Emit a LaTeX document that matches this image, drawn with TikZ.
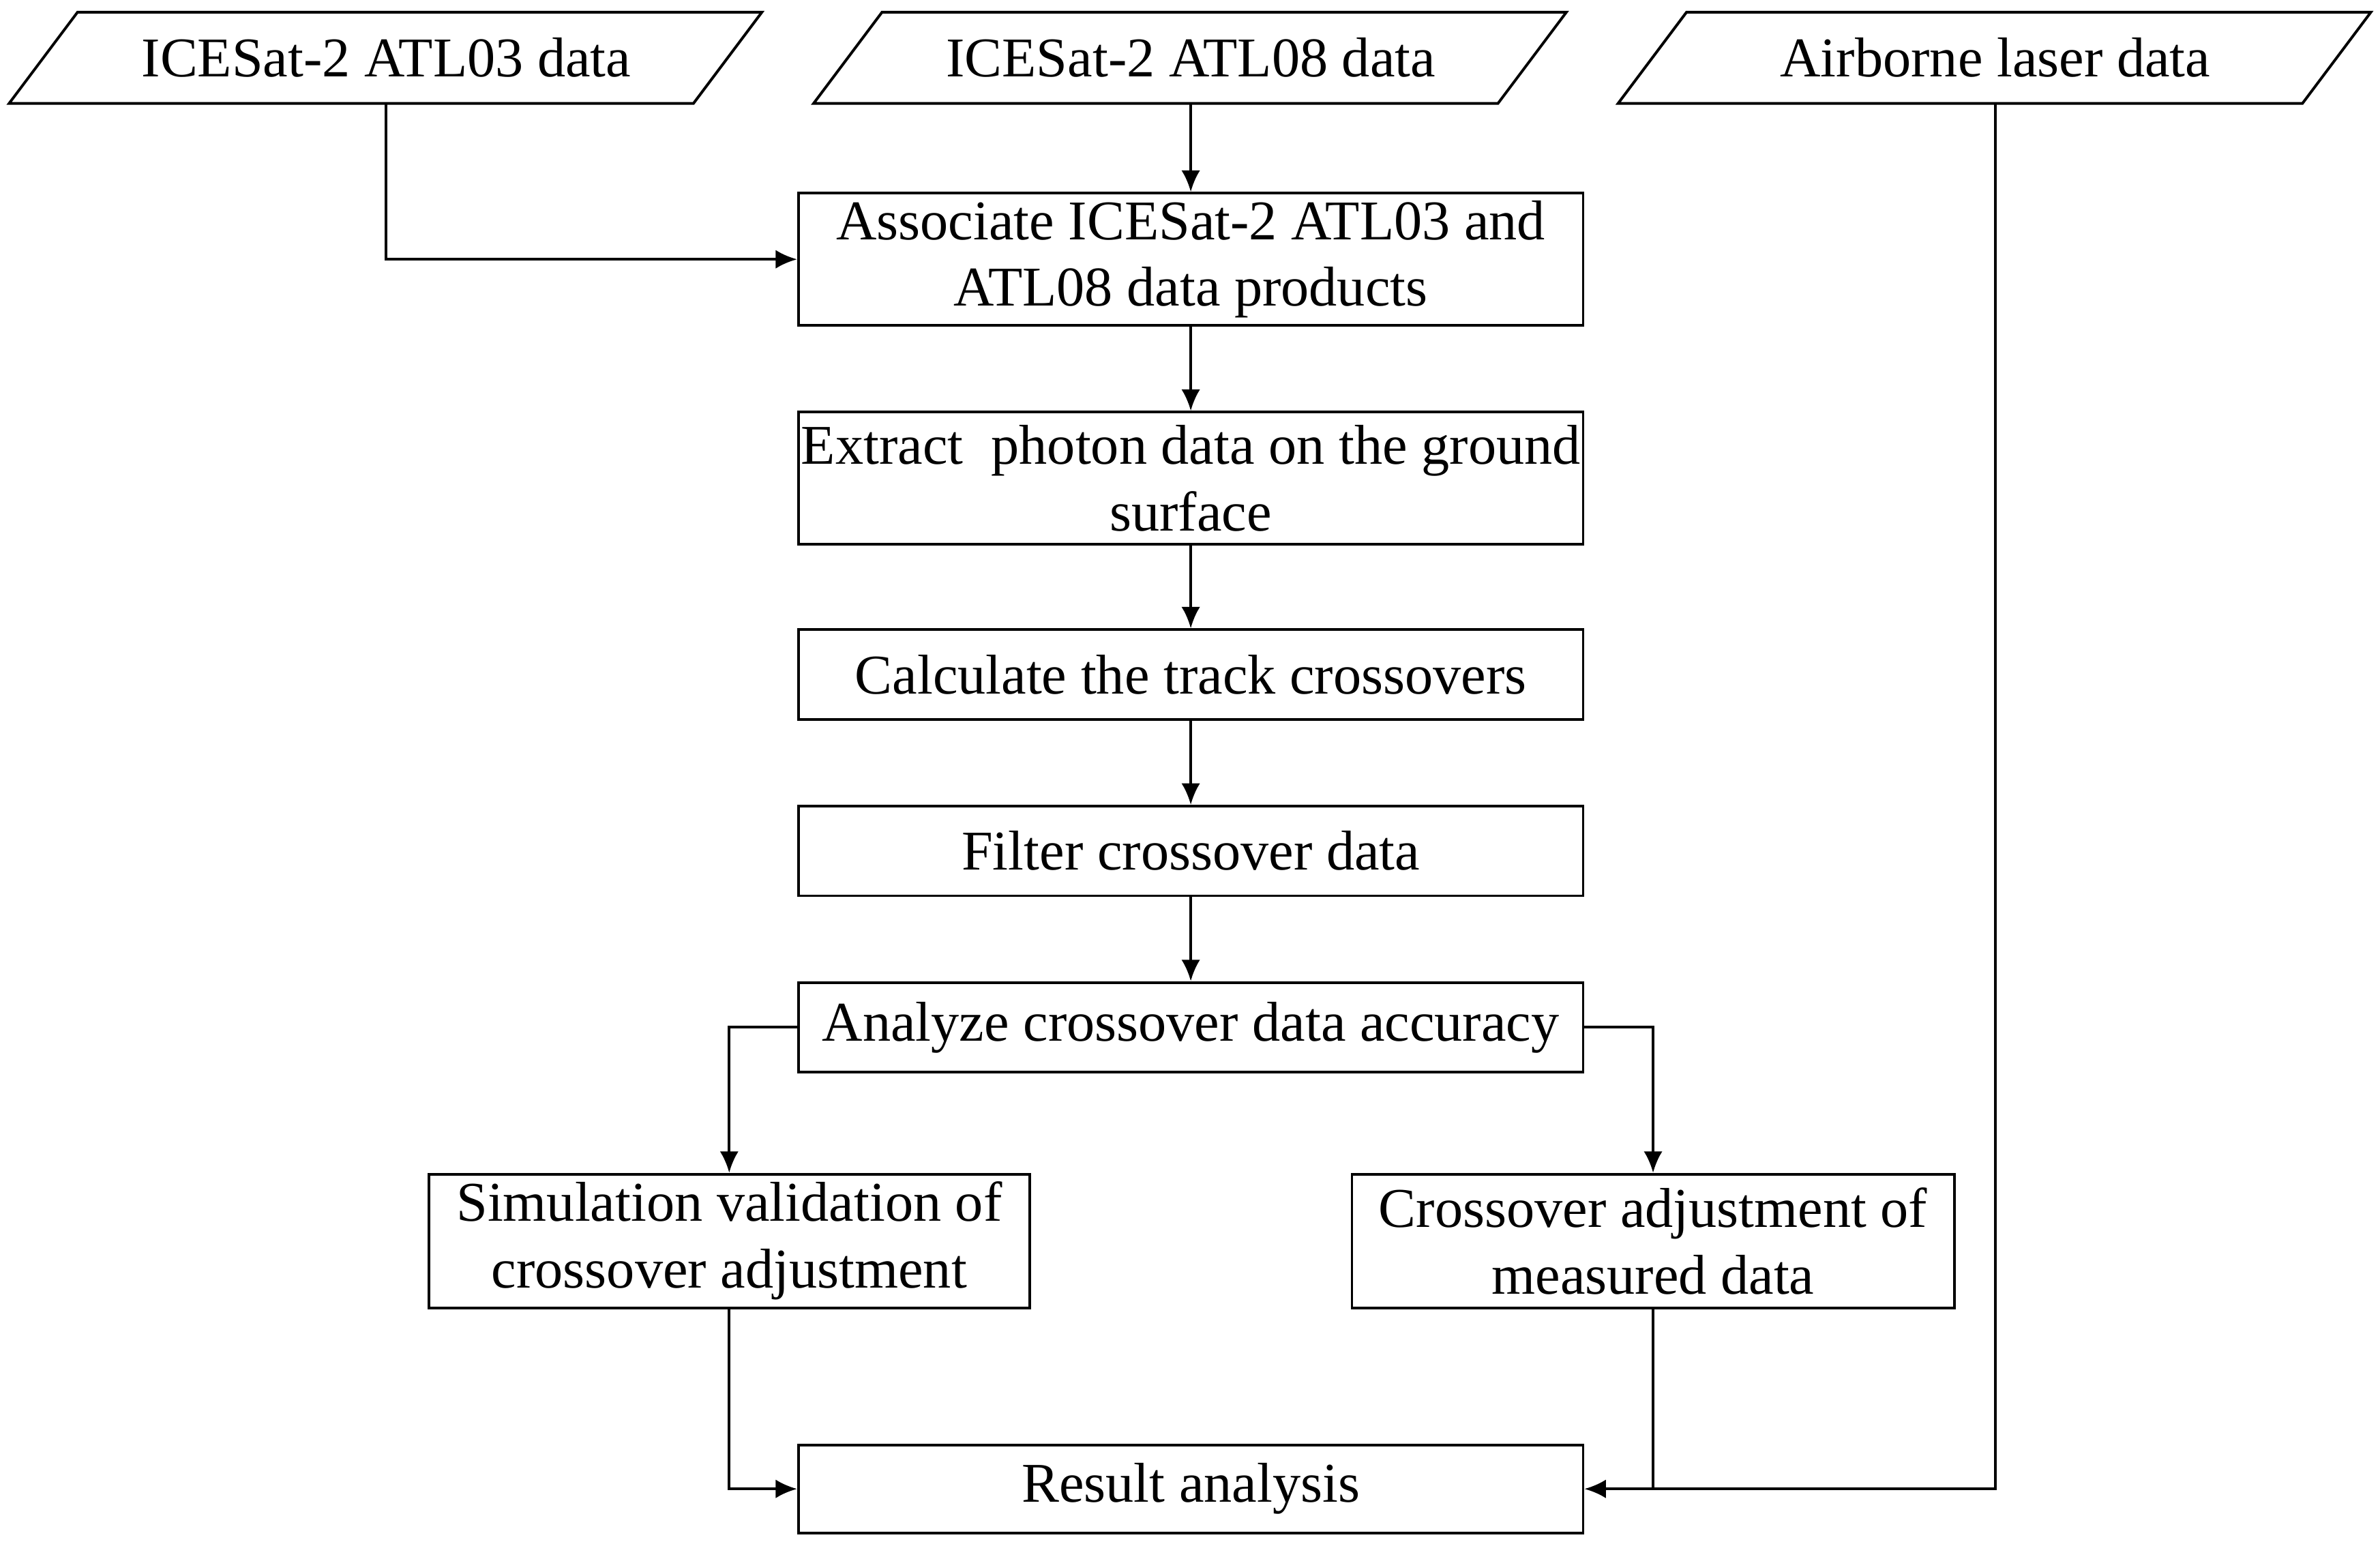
\documentclass[tikz,border=0pt]{standalone}
\usepackage{fontspec}
\setmainfont{Liberation Serif}
\usetikzlibrary{arrows.meta}
\begin{document}
\begin{tikzpicture}[x=0.1mm,y=-0.1mm,
  box/.style={draw,line width=0.5pt,align=center,font=\fontsize{10.5}{12.5}\selectfont,inner sep=0pt},
  lbl/.style={align=center,font=\fontsize{10.5}{12.5}\selectfont},
  arr/.style={line width=0.5pt,-{Latex[length=4pt,width=3.5pt]}},
  ln/.style={line width=0.5pt}]
\useasboundingbox (0,0) rectangle (1565,1015);
% parallelograms
\foreach \n/\cx/\t in {p1/254/ICESat-2 ATL03 data, p2/783/ICESat-2 ATL08 data, p3/1312/Airborne laser data}{
  \draw[ln] (\cx-203,8) -- (\cx+247,8) -- (\cx+202,68) -- (\cx-248,68) -- cycle;
  \node[lbl] (\n) at (\cx,38) {\t};
}
\coordinate (p1b) at (254,68);
\coordinate (p2b) at (783,68);
\coordinate (p3b) at (1312,68);
\node[box,minimum width=516\pgflinewidth/\pgflinewidth*0.1mm,minimum height=8.7mm] (b1) at (783,170.5) {Associate ICESat-2 ATL03 and\\ATL08 data products};
\node[box,minimum width=51.6mm,minimum height=8.7mm] (b2) at (783,314.5) {Extract \ photon data on the ground\\surface};
\node[box,minimum width=51.6mm,minimum height=5.9mm] (b3) at (783,443.5) {Calculate the track crossovers};
\node[box,minimum width=51.6mm,minimum height=5.9mm] (b4) at (783,559.5) {Filter crossover data};
\node[box,minimum width=51.6mm,minimum height=5.9mm] (b5) at (783,675.5) {Analyze crossover data accuracy};
\node[box,minimum width=39.5mm,minimum height=8.8mm] (bl) at (479.5,816) {Simulation validation of\\crossover adjustment};
\node[box,minimum width=39.6mm,minimum height=8.8mm] (br) at (1087,816) {Crossover adjustment of\\measured data};
\node[box,minimum width=51.6mm,minimum height=5.8mm] (res) at (783,979) {Result analysis};
\draw[arr] (p1b) |- (b1.west);
\draw[arr] (p2b) -- (b1.north);
\draw[arr] (b1) -- (b2);
\draw[arr] (b2) -- (b3);
\draw[arr] (b3) -- (b4);
\draw[arr] (b4) -- (b5);
\draw[arr] (b5.west) -| (bl.north);
\draw[arr] (b5.east) -| (br.north);
\draw[arr] (bl.south) |- (res.west);
\draw[ln] (br.south) -- (br.south |- res.east);
\draw[arr] (p3b) |- (res.east);
\end{tikzpicture}
\end{document}
